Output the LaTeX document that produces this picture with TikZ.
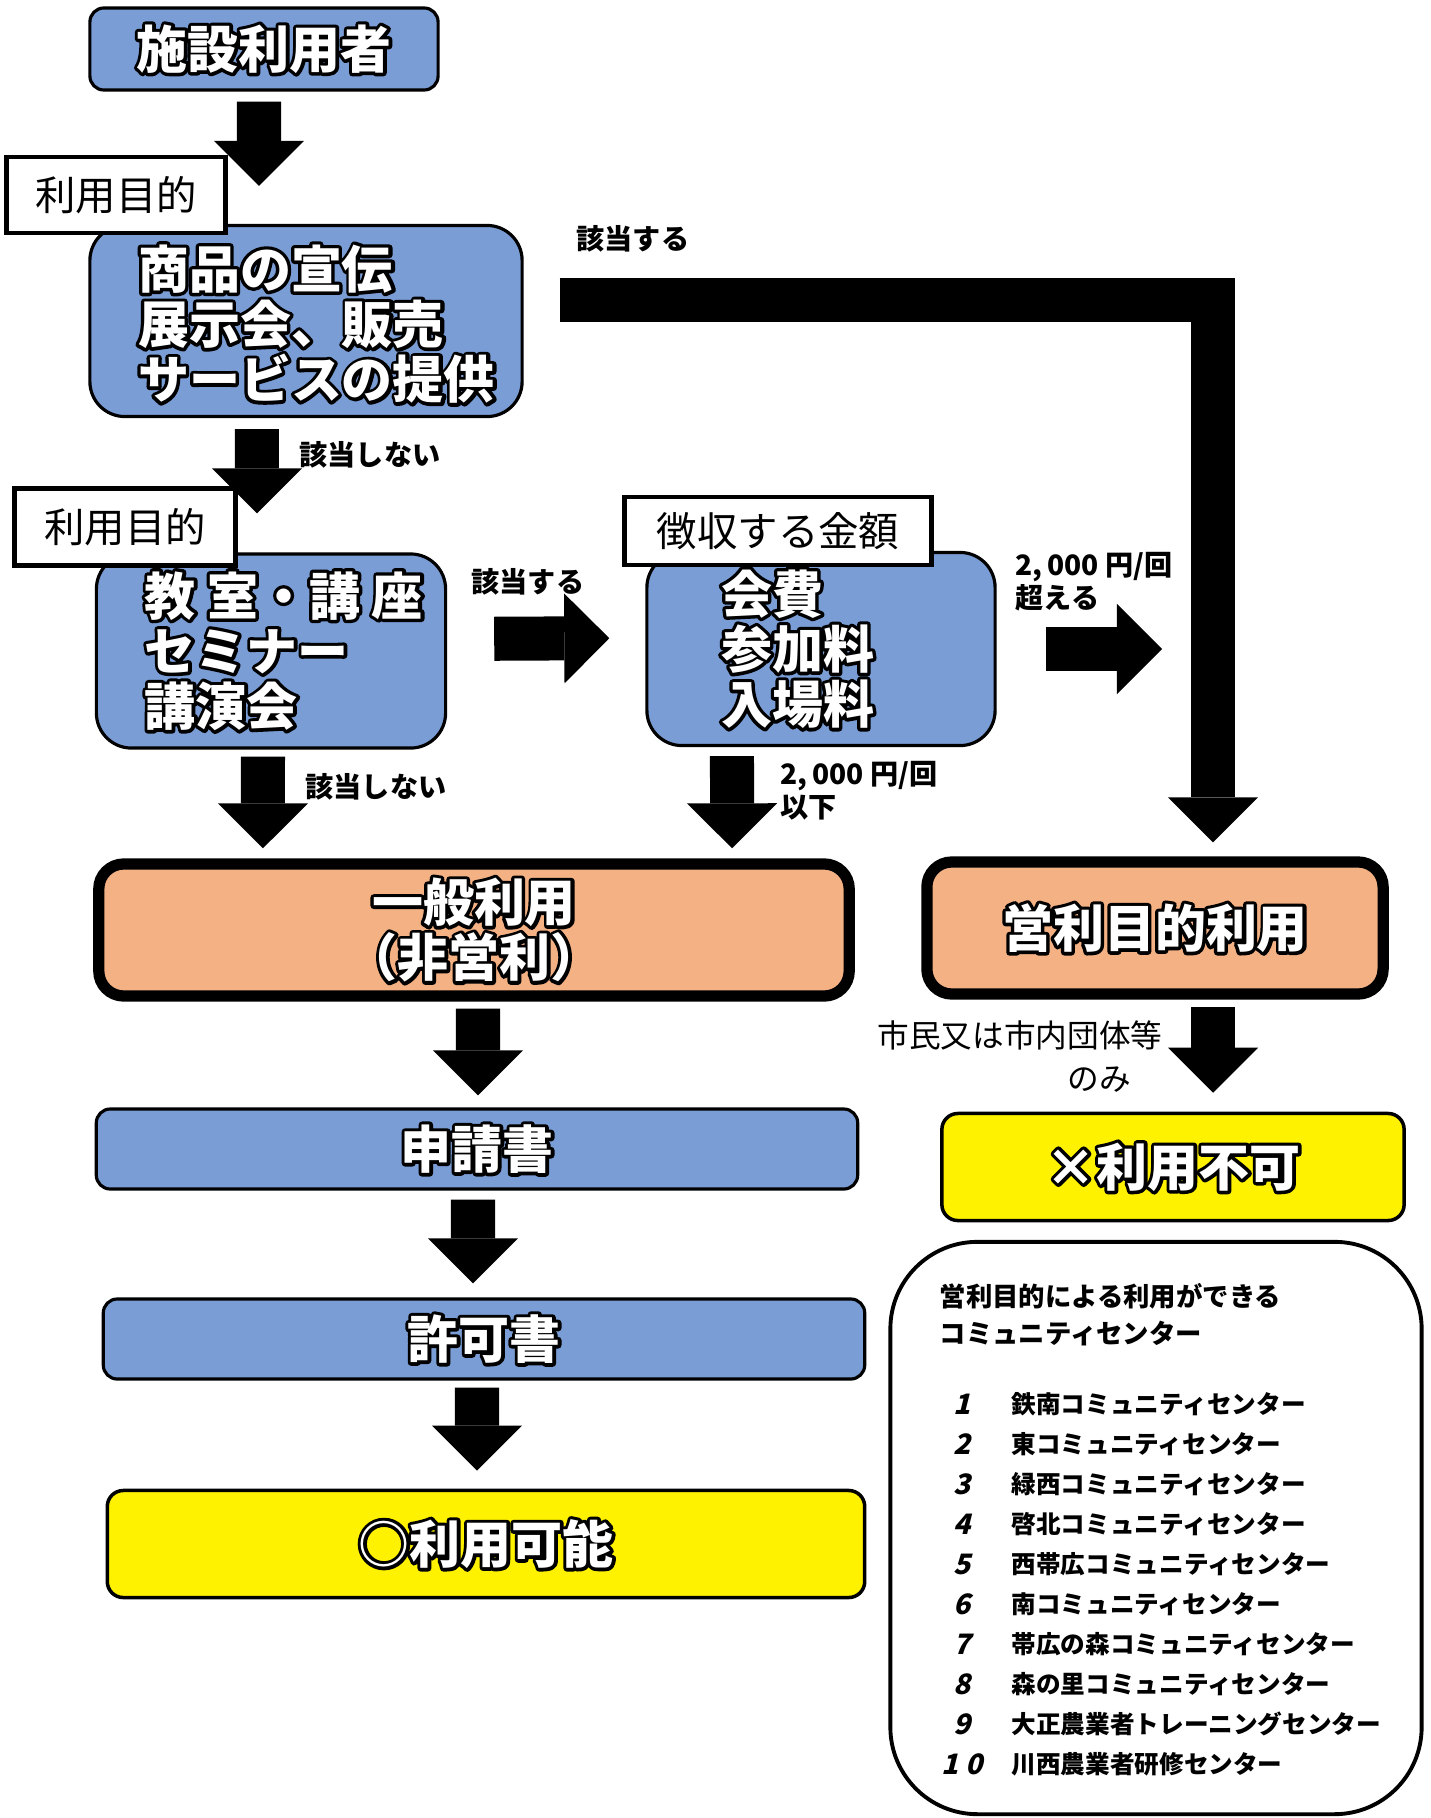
\documentclass[tikz,border=0pt]{standalone}
\usepackage{fontspec}
\setmainfont{Noto Sans CJK JP}
\newfontfamily\slantfont{Noto Sans CJK JP}[FakeSlant=0.25]
\usetikzlibrary{arrows.meta}
\definecolor{boxblue}{RGB}{122,157,213}
\definecolor{boxorange}{RGB}{244,177,131}
\newcommand{\popw}[1]{\rlap{\special{pdf:literal direct 0 G 1 Tr 1.9 w 1 j}#1\special{pdf:literal direct 0 Tr}}{\color{white}#1}}

\begin{document}
\begin{tikzpicture}[x=0.01cm, y=-0.01cm,
    bluebox/.style={draw, line width=0.9pt, fill=boxblue, inner sep=0pt},
    tagbox/.style={draw, line width=1.4pt, fill=white, inner sep=0pt, font=\fontsize{11.5}{12}\selectfont},
    orangebox/.style={draw, line width=3.2pt, fill=boxorange, rounded corners=0.25cm, inner sep=0pt},
    yellowbox/.style={draw, line width=1pt, fill=yellow, rounded corners=0.16cm, inner sep=0pt},
    pop/.style={font=\fontsize{14.5}{15.7}\selectfont\bfseries, align=center},
    poptext/.style={font=\fontsize{14.5}{15.7}\selectfont\bfseries, align=left, inner sep=0pt},
    note/.style={font=\fontsize{8}{9.4}\selectfont\bfseries, align=left, inner sep=0pt},
    barrow/.style={line width=0.44cm, -{Triangle[length=0.45cm, width=0.9cm, line width=0pt]}}
  ]
  \path[use as bounding box] (0,0) rectangle (1431,1818);

  \node[bluebox, pop, rounded corners=0.14cm, minimum width=3.48cm, minimum height=0.82cm] (user) at (264,49) {\popw{施設利用者}};
  \node[bluebox, rounded corners=0.35cm, minimum width=4.32cm, minimum height=1.91cm] (shohin) at (306,321) {};
  \node[poptext, anchor=west] (shohintxt) at ([xshift=0.49cm, yshift=-0.03cm]shohin.west) {\popw{商品の宣伝}\\\popw{展示会、販売}\\\popw{サービスの提供}};
  \node[bluebox, rounded corners=0.35cm, minimum width=3.49cm, minimum height=1.94cm] (kyoshitsu) at (271,651) {};
  \node[poptext, anchor=west] (kyoshitsutxt) at ([xshift=0.49cm]kyoshitsu.west) {\popw{教 室・講 座}\\\popw{セミナー}\\\popw{講演会}};
  \node[bluebox, rounded corners=0.35cm, minimum width=3.48cm, minimum height=1.93cm] (kaihi) at (821,649) {};
  \node[poptext, anchor=west] (kaihitxt) at ([xshift=0.75cm]kaihi.west) {\popw{会費}\\\popw{参加料}\\\popw{入場料}};

  \node[orangebox, pop, minimum width=7.50cm, minimum height=1.32cm] (ippan) at (474,930) {\popw{一般利用}\\\popw{（非営利）}};
  \node[orangebox, pop, minimum width=4.56cm, minimum height=1.32cm] (eiri) at (1155,928) {\popw{営利目的利用}};
  \node[bluebox, pop, rounded corners=0.14cm, minimum width=7.61cm, minimum height=0.80cm] (shinsei) at (477,1149) {\popw{申請書}};
  \node[bluebox, pop, rounded corners=0.14cm, minimum width=7.61cm, minimum height=0.80cm] (kyoka) at (484,1339) {\popw{許可書}};
  \node[yellowbox, pop, minimum width=7.57cm, minimum height=1.07cm] (kanou) at (486,1544) {\popw{○利用可能}};
  \node[yellowbox, pop, minimum width=4.62cm, minimum height=1.07cm] (fuka) at (1173,1167) {\popw{×利用不可}};

  \coordinate (lbar) at ([xshift=0.58cm]eiri.north);

  \draw[barrow, shorten <=0.10cm, shorten >=0.38cm] ([xshift=-0.05cm]user.south) -- ([xshift=-0.47cm]shohin.north);
  \draw[barrow, shorten <=0.11cm, shorten >=0.39cm] ([xshift=-0.49cm]shohin.south) -- ([xshift=-0.14cm]kyoshitsu.north);
  \draw[barrow, shorten <=0.36cm, shorten >=0.14cm] ([yshift=0.21cm]shohin.east) -| (lbar);
  \draw[barrow, shorten <=0.47cm, shorten >=0.36cm] ([yshift=0.12cm]kyoshitsu.east) -- ([yshift=0.11cm]kaihi.west);
  \draw[barrow, shorten <=0.49cm, shorten >=0.51cm] (kaihi.east) -- (kaihi.east -| lbar);
  \draw[barrow, shorten <=0.07cm, shorten >=0.10cm] ([xshift=-0.08cm]kyoshitsu.south) -- ([xshift=-2.11cm]ippan.north);
  \draw[barrow, shorten <=0.09cm, shorten >=0.10cm] ([xshift=-0.89cm]kaihi.south) -- ([xshift=2.58cm]ippan.north);
  \draw[barrow, shorten <=0.07cm, shorten >=0.12cm] ([xshift=0.04cm]ippan.south) -- ([xshift=0.01cm]shinsei.north);
  \draw[barrow, shorten <=0.07cm, shorten >=0.19cm] (lbar |- eiri.south) -- (lbar |- fuka.north);
  \draw[barrow, shorten <=0.09cm, shorten >=0.14cm] ([xshift=-0.04cm]shinsei.south) -- ([xshift=-0.11cm]kyoka.north);
  \draw[barrow, shorten <=0.07cm, shorten >=0.18cm] ([xshift=-0.07cm]kyoka.south) -- ([xshift=-0.09cm]kanou.north);

  \node[tagbox, minimum width=2.19cm, minimum height=0.76cm] (purpose1) at (116,195) {利用目的};
  \node[tagbox, minimum width=2.20cm, minimum height=0.77cm] (purpose2) at (125,527) {利用目的};
  \node[tagbox, minimum width=3.07cm, minimum height=0.68cm] (chosyu) at (778,531) {徴収する金額};

  \node[note, anchor=west] (yesA) at (576,239) {該当する};
  \node[note, anchor=west] (noA) at (299,455) {該当しない};
  \node[note, anchor=west] (yesB) at (471,582) {該当する};
  \node[note, anchor=north west] (overA) at (1015,552) {2,\,000 円/回\\超える};
  \node[note, anchor=west] (noB) at (305,787) {該当しない};
  \node[note, anchor=north west] (underA) at (780,761) {2,\,000 円/回\\以下};
  \node[font=\fontsize{9}{12.2}\selectfont, align=right, inner sep=0pt, anchor=north east] (citizen) at (1163,1020) {市民又は市内団体等\\のみ\phantom{等}};

  \node[draw, line width=1.1pt, rounded corners=0.87cm, minimum width=5.31cm, minimum height=5.72cm] (centers) at (1156,1528) {};
  \node[font=\fontsize{7.5}{10.5}\selectfont\bfseries, align=left, inner sep=0pt, anchor=north west] (centershead) at (939,1283) {営利目的による利用ができる\\コミュニティセンター};
  \foreach \n/\cname [count=\i from 0] in {1/鉄南コミュニティセンター, 2/東コミュニティセンター, 3/緑西コミュニティセンター, 4/啓北コミュニティセンター, 5/西帯広コミュニティセンター, 6/南コミュニティセンター, 7/帯広の森コミュニティセンター, 8/森の里コミュニティセンター, 9/大正農業者トレーニングセンター, 1 0/川西農業者研修センター} {
    \node[font=\fontsize{8}{9}\selectfont\slantfont\bfseries, inner sep=0pt] (num\i) at (962,1404+40*\i) {\n};
    \node[font=\fontsize{7}{9}\selectfont\bfseries, inner sep=0pt, anchor=west] (cc\i) at (1011,1404+40*\i) {\cname};
  }
\end{tikzpicture}
\end{document}
